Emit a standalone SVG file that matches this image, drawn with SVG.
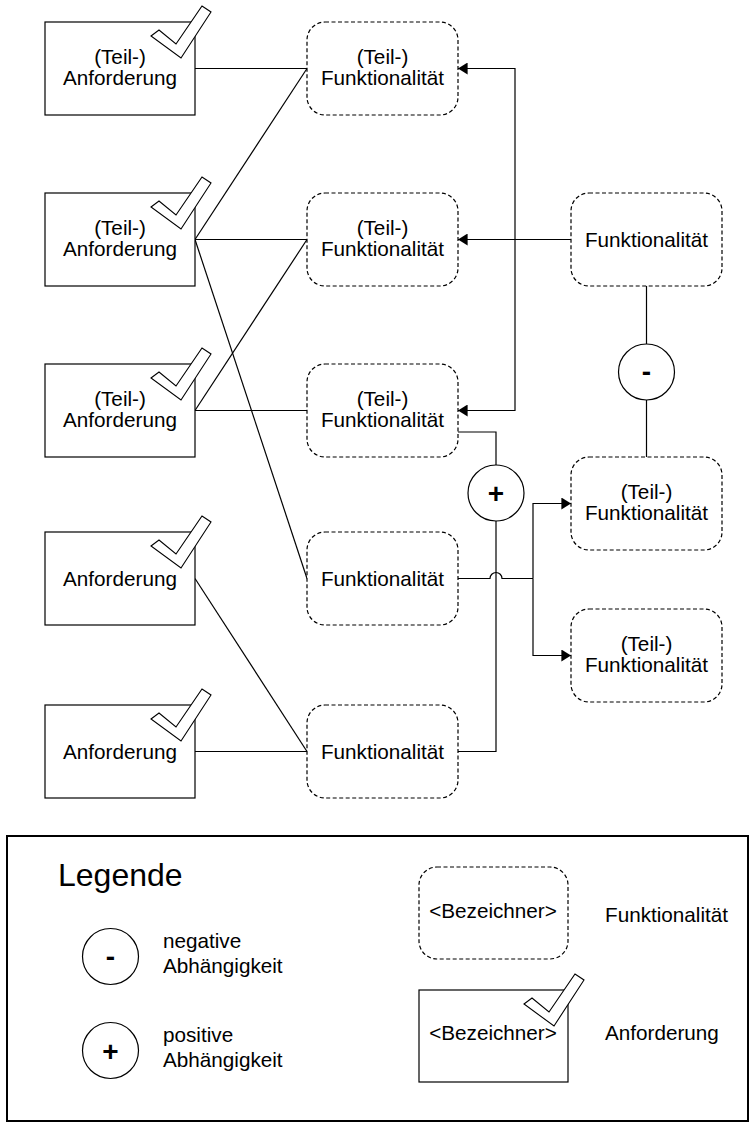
<svg xmlns="http://www.w3.org/2000/svg" xmlns:xlink="http://www.w3.org/1999/xlink" width="751" height="1124" viewBox="0 0 751 1124">
<style>
text{font-family:"Liberation Sans",Arial,sans-serif;font-size:20.7px;fill:#000}
.c{text-anchor:middle}
.req{fill:#fff;stroke:#000;stroke-width:1.2}
.fn{fill:#fff;stroke:#000;stroke-width:1.2;stroke-dasharray:4 2.5}
.chk{fill:#fff;stroke:#000;stroke-width:1.1;stroke-linejoin:miter}
.dep{fill:#fff;stroke:#000;stroke-width:1.2}
.sym{font-size:28px;font-weight:bold;text-anchor:middle}
.ln{fill:none;stroke:#000;stroke-width:1.2}
.leg{fill:#fff;stroke:#000;stroke-width:2}
</style>
<defs>
<path id="chk" d="M-44,14 L-36,8 L-19,22 L7,-16 L16,-10 L-14,36 Z"/>
<marker id="ar" markerWidth="10" markerHeight="12" refX="8" refY="5" orient="auto" markerUnits="userSpaceOnUse" viewBox="0 0 8 10">
<path d="M0,0 L8,5 L0,10 Z" fill="#000"/>
</marker>
</defs>
<rect width="751" height="1124" fill="#fff"/>

<g id="connectors">
<path class="ln" d="M195,68.5 L307,68.5"/>
<path class="ln" d="M195,239.5 L307,68.5"/>
<path class="ln" d="M195,239.5 L307,239.5"/>
<path class="ln" d="M195,239.5 L307,578.5"/>
<path class="ln" d="M195,410.5 L307,239.5"/>
<path class="ln" d="M195,410.5 L307,410.5"/>
<path class="ln" d="M195,578.5 L307,751.5"/>
<path class="ln" d="M195,751.5 L307,751.5"/>
<path class="ln" d="M571,239.5 L458,239.5" marker-end="url(#ar)"/>
<path class="ln" d="M515,239.5 L515,68.5 L458,68.5" marker-end="url(#ar)"/>
<path class="ln" d="M515,239.5 L515,410.5 L458,410.5" marker-end="url(#ar)"/>
<path class="ln" d="M646.5,286 L646.5,344"/>
<path class="ln" d="M646.5,400 L646.5,457"/>
<path class="ln" d="M458,432 L496,432 L496,465"/>
<path class="ln" d="M496,521 L496,751.5 L458,751.5"/>
<path class="ln" d="M458,578.5 L490,578.5 A6,6 0 0 1 502,578.5 L533,578.5"/>
<path class="ln" d="M533,578.5 L533,503.5 L571,503.5" marker-end="url(#ar)"/>
<path class="ln" d="M533,578.5 L533,655.5 L571,655.5" marker-end="url(#ar)"/>
</g>

<g id="req1"><rect class="req" x="45" y="22" width="150" height="93"/><use xlink:href="#chk" class="chk" transform="translate(195,22)"/><text class="c" x="120" y="63.5">(Teil-)</text><text class="c" x="120" y="84.5">Anforderung</text></g>
<g id="req2"><rect class="req" x="45" y="193" width="150" height="93"/><use xlink:href="#chk" class="chk" transform="translate(195,193)"/><text class="c" x="120" y="234.5">(Teil-)</text><text class="c" x="120" y="255.5">Anforderung</text></g>
<g id="req3"><rect class="req" x="45" y="364" width="150" height="93"/><use xlink:href="#chk" class="chk" transform="translate(195,364)"/><text class="c" x="120" y="405.5">(Teil-)</text><text class="c" x="120" y="426.5">Anforderung</text></g>
<g id="req4"><rect class="req" x="45" y="532" width="150" height="93"/><use xlink:href="#chk" class="chk" transform="translate(195,532)"/><text class="c" x="120" y="585.5">Anforderung</text></g>
<g id="req5"><rect class="req" x="45" y="705" width="150" height="93"/><use xlink:href="#chk" class="chk" transform="translate(195,705)"/><text class="c" x="120" y="758.5">Anforderung</text></g>

<g id="fn1"><rect class="fn" x="307" y="22" width="151" height="93" rx="18"/><text class="c" x="382.5" y="63.5">(Teil-)</text><text class="c" x="382.5" y="84.5">Funktionalität</text></g>
<g id="fn2"><rect class="fn" x="307" y="193" width="151" height="93" rx="18"/><text class="c" x="382.5" y="234.5">(Teil-)</text><text class="c" x="382.5" y="255.5">Funktionalität</text></g>
<g id="fn3"><rect class="fn" x="307" y="364" width="151" height="93" rx="18"/><text class="c" x="382.5" y="405.5">(Teil-)</text><text class="c" x="382.5" y="426.5">Funktionalität</text></g>
<g id="fn4"><rect class="fn" x="307" y="532" width="151" height="93" rx="18"/><text class="c" x="382.5" y="585.5">Funktionalität</text></g>
<g id="fn5"><rect class="fn" x="307" y="705" width="151" height="93" rx="18"/><text class="c" x="382.5" y="758.5">Funktionalität</text></g>
<g id="fn6"><rect class="fn" x="571" y="193" width="151" height="93" rx="18"/><text class="c" x="646.5" y="246.5">Funktionalität</text></g>
<g id="fn7"><rect class="fn" x="571" y="457" width="151" height="93" rx="18"/><text class="c" x="646.5" y="498.5">(Teil-)</text><text class="c" x="646.5" y="519.5">Funktionalität</text></g>
<g id="fn8"><rect class="fn" x="571" y="609" width="151" height="93" rx="18"/><text class="c" x="646.5" y="650.5">(Teil-)</text><text class="c" x="646.5" y="671.5">Funktionalität</text></g>

<g id="minus"><circle class="dep" cx="646.5" cy="372" r="28"/><text class="sym" x="646.5" y="381">-</text></g>
<g id="plus"><circle class="dep" cx="496" cy="493" r="28"/><text class="sym" x="496" y="503">+</text></g>

<g id="legend">
<rect class="leg" x="7" y="836" width="741" height="285"/>
<text x="58" y="886" style="font-size:32px">Legende</text>
<circle class="dep" cx="110.5" cy="956.5" r="28"/><text class="sym" x="110.5" y="965.5">-</text>
<text x="163" y="948">negative</text><text x="163" y="973">Abhängigkeit</text>
<circle class="dep" cx="110.5" cy="1050.5" r="28"/><text class="sym" x="110.5" y="1060.5">+</text>
<text x="163" y="1042">positive</text><text x="163" y="1067">Abhängigkeit</text>
<rect class="fn" x="419" y="867" width="149" height="92" rx="18"/><text class="c" x="493" y="918">&lt;Bezeichner&gt;</text>
<text x="605" y="922">Funktionalität</text>
<rect class="req" x="419" y="990" width="149" height="92"/><use xlink:href="#chk" class="chk" transform="translate(568,990)"/><text class="c" x="493" y="1040">&lt;Bezeichner&gt;</text>
<text x="605" y="1040">Anforderung</text>
</g>
</svg>
